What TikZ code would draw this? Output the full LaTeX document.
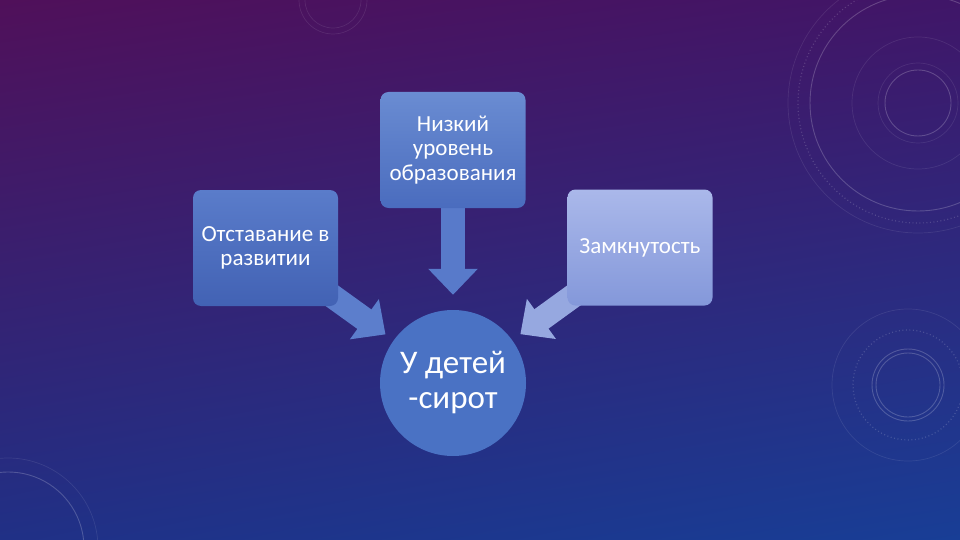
\documentclass[tikz,border=0pt]{standalone}
\usepackage{fontspec}
\setmainfont{Carlito}
\usetikzlibrary{arrows.meta,shadings}
\definecolor{bgTL}{RGB}{80,16,90}
\definecolor{bgTR}{RGB}{64,22,104}
\definecolor{bgBL}{RGB}{32,48,134}
\definecolor{bgBR}{RGB}{24,62,150}
\definecolor{boxA}{RGB}{106,140,210}
\definecolor{boxB}{RGB}{74,108,190}
\definecolor{boxC}{RGB}{90,124,202}
\definecolor{boxD}{RGB}{66,98,180}
\definecolor{boxE}{RGB}{170,184,234}
\definecolor{boxF}{RGB}{132,152,218}
\definecolor{hubC}{RGB}{74,114,196}
\definecolor{arrA}{RGB}{88,122,202}
\definecolor{arrB}{RGB}{92,126,204}
\definecolor{arrC}{RGB}{150,168,224}
\pgfdeclarelayer{bg}
\pgfdeclarelayer{arr}
\pgfsetlayers{bg,arr,main}
\tikzset{
  boxnode/.style={rounded corners=8pt, minimum width=145pt, minimum height=116pt,
    align=center, text=white, inner sep=2pt, font=\fontsize{23}{24.5}\selectfont},
  hubnode/.style={circle, fill=hubC, minimum size=146pt, align=center, text=white,
    inner sep=0pt, font=\fontsize{33}{35}\selectfont},
  barrow/.style={line width=24pt, -{Triangle[width=48pt,length=26pt]}},
  deco/.style={draw=white, opacity=0.2, line width=0.9pt},
  decofaint/.style={draw=white, opacity=0.09, line width=0.7pt},
  decodot/.style={draw=white, opacity=0.16, line width=1.2pt, dash pattern=on 1pt off 2.5pt}
}
\begin{document}
\begin{tikzpicture}[x=1pt,y=-1pt]
\useasboundingbox (0,0) rectangle (960,540);
\begin{pgfonlayer}{bg}
\shade[upper left=bgTL, upper right=bgTR, lower left=bgBL, lower right=bgBR] (0,0) rectangle (960,540);
% decorative circles, top right
\draw[deco] (918,103) circle (33pt);
\draw[decofaint] (918,103) circle (40pt);
\draw[decofaint] (918,103) circle (66pt);
\draw[deco] (918,103) circle (108pt);
\draw[decofaint] (918,103) circle (130pt);
\draw[decodot] (918,103) circle (120pt);
% right middle
\draw[deco] (908,385) circle (32pt);
\draw[deco] (908,385) circle (36pt);
\draw[decodot] (908,385) circle (55pt);
\draw[decofaint] (908,385) circle (76pt);
% bottom left
\draw[deco] (8,548) circle (76pt);
\draw[decofaint] (8,548) circle (90pt);
% top left
\draw[decofaint] (333,0) circle (28pt);
\draw[decofaint] (333,0) circle (34pt);
\end{pgfonlayer}

\node[boxnode, top color=boxA, bottom color=boxB] (low) at (453,150) {Низкий\\уровень\\образования};
\node[boxnode, top color=boxC, bottom color=boxD] (lag) at (265.5,248) {Отставание в\\развитии};
\node[boxnode, top color=boxE, bottom color=boxF] (closed) at (640,247.5) {Замкнутость};
\node[hubnode] (hub) at (453,383) {У детей\\-сирот};

\begin{pgfonlayer}{arr}
\draw[barrow, draw=arrA, fill=arrA, shorten >=15pt] (low.center) -- (hub);
\draw[barrow, draw=arrB, fill=arrB, shorten >=10pt] (lag.center) -- (hub);
\draw[barrow, draw=arrC, fill=arrC, shorten >=10pt] (closed.center) -- (hub);
\end{pgfonlayer}
\end{tikzpicture}
\end{document}
